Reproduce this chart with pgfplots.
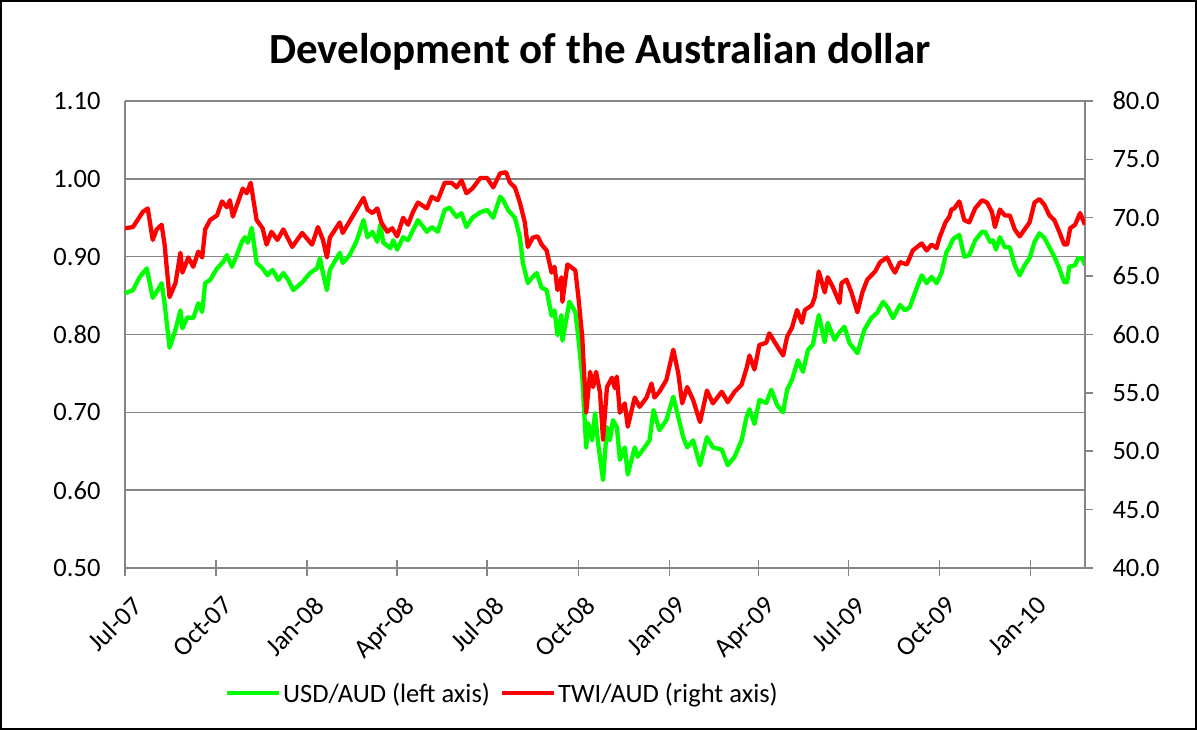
\documentclass[border=0pt]{standalone}
\usepackage{pgfplots}
\pgfplotsset{compat=1.18}
\usepackage{fontspec}
\setmainfont{Carlito}
\definecolor{gridgray}{RGB}{134,134,134}
\definecolor{lgreen}{RGB}{0,255,0}
\definecolor{lred}{RGB}{255,0,0}
\pgfplotsset{
  common/.style={
    at={(125pt,162pt)}, anchor=south west, scale only axis,
    width=960pt, height=467pt,
    xmin=0, xmax=970,
    axis line style={gridgray, line width=1.5pt},
    tick style={gridgray, line width=1.5pt},
    ticklabel style={font=\fontsize{26.5}{31}\selectfont},
  }
}
\begin{document}
\begin{tikzpicture}
\useasboundingbox (0pt,0pt) rectangle (1197pt,730pt);
\fill[white] (0pt,0pt) rectangle (1197pt,730pt);
\draw[black,line width=2pt] (1pt,1pt) rectangle (1196pt,729pt);
\node[font=\fontsize{43}{50}\selectfont\bfseries] at (600pt,678pt) {Development of the Australian dollar};
\begin{axis}[common,
  ymin=0.5, ymax=1.1,
  axis x line*=bottom, axis y line*=left,
  xtick={0,92,184,275,366,458,550,640,731,823,915},
  xticklabels={Jul-07,Oct-07,Jan-08,Apr-08,Jul-08,Oct-08,Jan-09,Apr-09,Jul-09,Oct-09,Jan-10},
  xtick align=center, xtick pos=bottom,
  major tick length=16pt,
  xticklabel style={rotate=45, anchor=north east, xshift=-6pt, yshift=-14pt},
  ytick={0.5,0.6,0.7,0.8,0.9,1.0,1.1},
  y tick style={draw=none}, ytick pos=left,
  yticklabel style={/pgf/number format/.cd, fixed, fixed zerofill, precision=2, assume math mode=true, /tikz/.cd, xshift=-21pt},
  ymajorgrids, grid style={gridgray, line width=1.5pt},
  legend style={at={(0.393,-0.268)}, anchor=center, draw=none, fill=none,
    legend columns=2, font=\fontsize{26.5}{31}\selectfont,
    /tikz/every even column/.append style={column sep=8pt}},
  legend image code/.code={\draw[#1] (0pt,0pt) -- (52pt,0pt);},
]
\addplot[lgreen, line width=4.3pt, line join=round] coordinates {
(0,0.853)(8,0.857)(15,0.874)(22,0.885)(28,0.847)(33,0.857)(37,0.866)(40,0.840)(45,0.783)(51,0.806)(56,0.831)(58,0.808)(63,0.822)(69,0.821)(74,0.840)(78,0.829)(81,0.866)(86,0.870)(93,0.885)(99,0.893)(103,0.902)(108,0.887)(113,0.902)(118,0.919)(121,0.925)(124,0.918)(128,0.937)(133,0.892)(139,0.885)(144,0.876)(149,0.883)(155,0.870)(160,0.879)(165,0.870)(170,0.857)(179,0.867)(187,0.879)(194,0.885)(197,0.898)(200,0.879)(204,0.857)(207,0.883)(217,0.905)(220,0.892)(227,0.902)(234,0.920)(241,0.947)(245,0.925)(250,0.932)(255,0.919)(258,0.941)(261,0.918)(268,0.911)(271,0.921)(275,0.909)(281,0.925)(286,0.921)(291,0.934)(296,0.947)(305,0.932)(310,0.938)(316,0.932)(323,0.960)(328,0.963)(335,0.951)(340,0.956)(345,0.938)(351,0.950)(359,0.957)(366,0.960)(372,0.950)(379,0.977)(382,0.973)(387,0.960)(394,0.950)(399,0.925)(402,0.892)(407,0.866)(412,0.874)(416,0.879)(421,0.860)(426,0.857)(431,0.824)(434,0.831)(437,0.799)(441,0.825)(442,0.792)(449,0.842)(455,0.829)(458,0.797)(462,0.745)(466,0.655)(468,0.686)(472,0.664)(475,0.699)(478,0.661)(483,0.613)(487,0.681)(490,0.664)(493,0.690)(497,0.681)(500,0.639)(505,0.655)(508,0.620)(515,0.655)(518,0.643)(525,0.655)(530,0.664)(534,0.703)(540,0.677)(547,0.690)(554,0.720)(559,0.694)(564,0.668)(568,0.655)(574,0.664)(581,0.632)(588,0.668)(594,0.655)(603,0.652)(609,0.632)(616,0.643)(623,0.664)(628,0.694)(631,0.704)(636,0.685)(641,0.716)(648,0.712)(653,0.729)(659,0.709)(665,0.700)(669,0.729)(674,0.742)(680,0.767)(685,0.752)(690,0.780)(695,0.787)(701,0.825)(707,0.790)(710,0.815)(717,0.793)(722,0.803)(727,0.810)(732,0.789)(740,0.776)(747,0.806)(754,0.821)(760,0.828)(766,0.842)(771,0.834)(776,0.821)(783,0.838)(788,0.831)(793,0.835)(798,0.853)(805,0.876)(810,0.866)(815,0.874)(820,0.866)(825,0.879)(830,0.906)(833,0.912)(836,0.921)(838,0.924)(843,0.928)(848,0.900)(853,0.902)(859,0.921)(866,0.932)(869,0.932)(874,0.919)(877,0.921)(880,0.909)(884,0.925)(889,0.912)(894,0.912)(899,0.889)(904,0.876)(909,0.889)(914,0.898)(919,0.919)(924,0.930)(929,0.924)(934,0.912)(939,0.900)(944,0.885)(949,0.867)(952,0.867)(954,0.887)(960,0.889)(963,0.898)(967,0.898)(970,0.889)
};
\addlegendentry{USD/AUD (left axis)}
\addlegendimage{lred, line width=4.3pt}
\addlegendentry{TWI/AUD (right axis)}
\end{axis}
\begin{axis}[common,
  ymin=40, ymax=80,
  axis x line=none, axis y line*=right,
  ytick={40,45,50,55,60,65,70,75,80},
  ytick align=outside, major tick length=8pt,
  yticklabel style={/pgf/number format/.cd, fixed, fixed zerofill, precision=1, assume math mode=true, /tikz/.cd, xshift=16pt},
]
\addplot[lred, line width=4.3pt, line join=round] coordinates {
(0,69.1)(8,69.2)(18,70.5)(23,70.8)(28,68.1)(32,69.0)(37,69.4)(40,67.7)(45,63.2)(51,64.4)(56,67.0)(58,65.3)(64,66.6)(69,65.8)(74,67.1)(78,66.6)(81,69.0)(86,69.8)(93,70.2)(98,71.4)(103,70.9)(106,71.5)(109,70.1)(114,71.3)(119,72.5)(123,72.1)(127,73.0)(133,69.8)(139,69.1)(143,67.7)(148,68.8)(154,68.1)(160,69.0)(169,67.5)(179,68.7)(189,67.7)(195,69.2)(200,68.1)(204,66.6)(207,68.3)(217,69.6)(220,68.7)(227,69.7)(234,70.7)(241,71.7)(245,70.7)(250,70.4)(255,70.8)(259,69.6)(265,68.8)(270,69.1)(275,68.4)(281,70.0)(286,69.4)(291,70.5)(296,71.3)(305,70.8)(310,71.8)(316,71.5)(323,73.0)(330,73.0)(335,72.6)(340,73.2)(345,72.1)(351,72.5)(359,73.4)(366,73.4)(372,72.6)(379,73.8)(385,73.9)(389,73.0)(394,72.6)(399,71.3)(404,69.6)(407,67.5)(412,68.3)(417,68.4)(421,67.7)(426,67.2)(431,65.3)(434,65.8)(437,63.8)(441,64.9)(442,62.8)(447,66.0)(455,65.5)(458,63.3)(462,59.8)(466,53.3)(470,56.8)(473,55.5)(476,56.8)(480,55.0)(483,51.0)(487,55.5)(492,56.3)(495,55.4)(497,56.4)(500,53.3)(505,54.1)(508,52.1)(515,54.6)(520,53.8)(527,54.6)(532,55.8)(535,54.6)(540,55.1)(547,56.1)(554,58.7)(559,56.7)(563,54.1)(568,55.5)(574,54.4)(581,52.5)(588,55.2)(594,54.1)(603,55.1)(609,54.2)(616,55.1)(623,55.7)(628,57.1)(631,58.2)(636,57.0)(641,59.1)(648,59.3)(651,60.1)(659,59.0)(665,58.2)(669,59.8)(674,60.6)(679,62.1)(684,61.0)(687,62.1)(694,62.5)(697,63.2)(701,65.4)(707,63.6)(710,64.9)(715,64.1)(722,62.7)(724,64.4)(729,64.7)(734,63.6)(740,61.9)(745,63.6)(750,64.7)(758,65.4)(763,66.2)(770,66.6)(775,65.7)(778,65.3)(783,66.2)(790,66.0)(796,67.2)(805,67.8)(810,67.2)(815,67.7)(820,67.4)(823,68.3)(829,69.6)(833,70.1)(835,70.7)(838,70.8)(843,71.4)(848,69.8)(853,69.6)(859,70.8)(866,71.5)(871,71.3)(876,70.5)(879,69.2)(884,70.7)(889,70.2)(894,70.2)(899,69.0)(904,68.4)(909,69.0)(914,69.6)(919,71.3)(924,71.6)(929,71.1)(934,70.2)(939,69.8)(944,68.8)(949,67.7)(952,67.7)(955,69.1)(960,69.4)(965,70.4)(968,69.8)(970,69.4)
};
\end{axis}
\end{tikzpicture}
\end{document}
